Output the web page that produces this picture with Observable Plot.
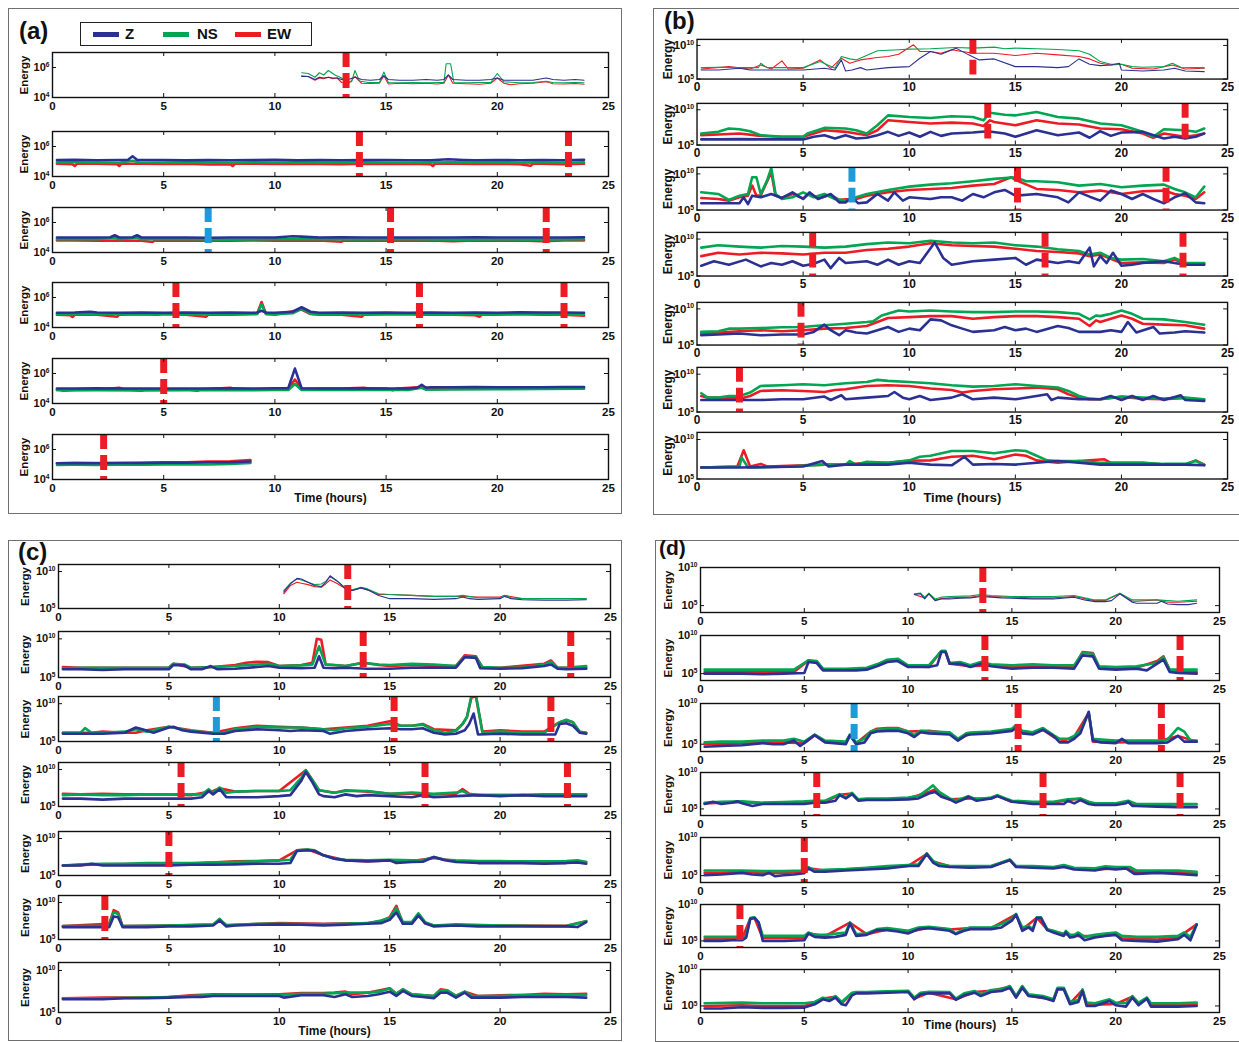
<!DOCTYPE html>
<html><head><meta charset="utf-8">
<script src="https://cdn.jsdelivr.net/npm/d3@7"></script>
<script src="https://cdn.jsdelivr.net/npm/@observablehq/plot@0.6"></script>
<style>
body{margin:0;background:#fff;}
#root{position:relative;width:1239px;height:1042px;overflow:hidden;font-family:"Liberation Sans",Arial,sans-serif;background:#fff;}
.panel{position:absolute;border:1.5px solid #707070;box-sizing:border-box;}
.plab{position:absolute;font-weight:bold;font-size:23px;line-height:1;color:#111;}
.sub{position:absolute;}
.legend{position:absolute;left:80px;top:22px;width:232px;height:24px;border:1.3px solid #222;box-sizing:border-box;background:#fff;}
.legend .sw{position:absolute;top:9px;width:26px;height:5px;}
.legend .lt{position:absolute;top:3px;font-weight:bold;font-size:15px;line-height:1;color:#111;}
</style></head><body><div id="root"></div>
<script>
// ---------------- DATA: [hour, log10(Energy)] ----------------
// Panel (a)
const a1_Z = [[11.2,5.4],[11.5,5.4],[11.8,5.2],[12.0,5.35],[12.2,5.3],[12.4,5.35],[12.6,5.3],[12.8,5.3],[13.0,5.2],[13.3,5.2],[13.6,5.35],[13.9,5.2],[14.3,5.15],[14.7,5.2],[14.9,5.45],[15.1,5.2],[15.6,5.15],[16.2,5.15],[16.8,5.2],[17.3,5.15],[17.6,5.2],[17.8,5.5],[18.0,5.2],[18.6,5.15],[19.2,5.15],[19.7,5.2],[20.0,5.3],[20.3,5.15],[21.0,5.15],[21.6,5.15],[22.2,5.3],[22.5,5.2],[23.0,5.15],[23.5,5.2],[23.9,5.15]];
const a1_NS = [[11.2,5.65],[11.5,5.6],[11.8,5.35],[12.0,5.65],[12.2,5.5],[12.4,5.8],[12.7,5.5],[13.0,5.3],[13.2,5.05],[13.45,5.05],[13.6,5.8],[13.8,5.1],[14.2,5.0],[14.7,5.0],[14.9,5.7],[15.1,5.0],[15.6,4.98],[16.2,5.0],[16.8,4.98],[17.4,5.0],[17.6,5.0],[17.7,6.25],[17.9,6.25],[18.05,5.0],[18.6,4.98],[19.2,5.0],[19.7,5.0],[20.0,5.6],[20.3,5.05],[21.0,4.98],[21.6,5.0],[22.2,5.08],[22.5,5.0],[23.0,4.98],[23.5,5.0],[23.9,4.98]];
const a1_EW = [[11.2,5.45],[11.5,5.4],[11.8,5.15],[12.0,5.3],[12.2,5.25],[12.4,5.35],[12.6,5.25],[12.8,5.3],[13.0,5.0],[13.3,4.9],[13.6,5.4],[13.9,4.95],[14.3,4.93],[14.7,4.95],[14.9,5.45],[15.1,4.9],[15.6,4.95],[16.2,4.92],[16.8,4.95],[17.3,4.9],[17.6,4.95],[17.8,5.5],[18.0,4.95],[18.6,4.92],[19.2,4.88],[19.7,4.95],[20.0,5.3],[20.3,4.95],[20.6,4.85],[21.0,4.92],[21.6,4.95],[22.2,5.05],[22.5,4.92],[23.0,4.9],[23.5,4.93],[23.9,4.88]];
const a2_Z = [[0.2,5.1],[1,5.12],[2,5.08],[3,5.1],[3.4,5.12],[3.6,5.35],[3.8,5.12],[5,5.1],[6,5.08],[7,5.1],[8,5.08],[9,5.1],[10,5.12],[11,5.08],[12,5.1],[13,5.08],[14,5.1],[15,5.1],[16,5.08],[17,5.08],[17.8,5.15],[18.5,5.1],[19,5.08],[20,5.1],[21,5.08],[22,5.1],[23,5.08],[23.9,5.12]];
const a2_NS = [[0.2,4.95],[1,4.95],[2,4.93],[3,4.92],[3.6,5.05],[3.9,4.95],[5,4.93],[6,4.95],[7,4.93],[8,4.92],[9,4.95],[10,4.93],[11,4.95],[12,4.93],[13,4.93],[14,4.95],[15,4.93],[16,4.92],[17,4.93],[18,4.95],[19,4.93],[20,4.93],[21,4.92],[22,4.93],[23,4.92],[23.9,4.95]];
const a2_EW = [[0.2,4.85],[0.9,4.82],[1.0,4.7],[1.1,4.85],[2,4.85],[2.9,4.82],[3.0,4.7],[3.1,4.85],[4,4.85],[5,4.83],[6,4.85],[7,4.8],[8,4.82],[8.1,4.7],[8.2,4.85],[9,4.85],[10,4.83],[11,4.85],[12,4.83],[13,4.82],[14,4.85],[15,4.83],[16,4.85],[17,4.82],[17.1,4.7],[17.2,4.85],[18,4.85],[19,4.83],[20,4.85],[21,4.82],[21.5,4.72],[21.6,4.85],[22,4.85],[23,4.82],[23.9,4.85]];
const a3_Z = [[0.2,5.0],[1,5.0],[2,5.0],[2.6,5.02],[2.8,5.15],[3.0,5.0],[3.6,5.02],[3.8,5.15],[4.0,5.0],[5,5.0],[6,5.0],[7,4.98],[8,5.0],[9,5.0],[10,5.0],[10.8,5.08],[11.2,5.06],[12,5.0],[13,5.02],[14,5.0],[15,5.0],[16,5.0],[17,5.0],[18,5.0],[19,5.02],[20,5.0],[21,5.0],[22,5.0],[23,5.0],[23.9,5.02]];
const a3_NS = [[0.2,4.88],[2,4.88],[2.8,4.98],[3.0,4.88],[3.8,4.98],[4.0,4.88],[6,4.88],[8,4.86],[10,4.88],[12,4.88],[14,4.87],[16,4.88],[18,4.86],[20,4.87],[22,4.86],[23.9,4.88]];
const a3_EW = [[0.2,4.8],[1,4.8],[2,4.78],[3,4.8],[4,4.78],[4.5,4.7],[4.6,4.8],[6,4.78],[7,4.8],[8,4.78],[9,4.8],[10,4.78],[12,4.8],[13,4.72],[13.1,4.8],[15,4.78],[17,4.8],[18,4.75],[19,4.8],[20,4.78],[21,4.8],[22,4.75],[23,4.8],[23.9,4.8]];
const a4_Z = [[0.2,4.98],[1,5.0],[1.7,5.05],[2,5.0],[3,4.98],[4,5.0],[5,4.98],[6,5.0],[7,4.98],[8,5.0],[9,4.98],[9.2,5.0],[9.4,5.12],[9.6,5.0],[10,4.98],[10.8,5.05],[11.2,5.35],[11.6,5.05],[12,4.98],[13,5.0],[14,4.98],[15,5.0],[16,4.98],[17,5.0],[18,4.98],[19,5.0],[20,4.98],[21,5.02],[22,5.0],[23,5.0],[23.9,4.98]];
const a4_NS = [[0.2,4.88],[2,4.9],[4,4.88],[6,4.88],[8,4.88],[9.2,4.9],[9.4,5.55],[9.6,4.9],[10,4.88],[10.8,4.95],[11.2,5.25],[11.6,4.92],[12,4.88],[14,4.88],[16,4.88],[18,4.87],[20,4.88],[22,4.88],[23.9,4.86]];
const a4_EW = [[0.2,4.85],[0.8,4.82],[0.9,4.7],[1.0,4.85],[2,4.85],[2.9,4.72],[3.0,4.85],[4,4.88],[4.7,4.85],[5,4.9],[6,4.85],[6.9,4.72],[7,4.85],[8,4.85],[9.2,4.9],[9.4,5.7],[9.6,4.9],[10,4.85],[11.2,5.2],[11.6,4.9],[12,4.85],[13,4.85],[13.9,4.72],[14,4.85],[15,4.88],[16,4.9],[16.5,4.85],[18,4.85],[19,4.82],[19.2,4.72],[19.3,4.85],[20,4.85],[21,4.9],[22,4.85],[23,4.85],[23.9,4.78]];
const a5_Z = [[0.2,5.0],[1,5.0],[2,5.02],[3,5.0],[4,5.0],[5,5.0],[6,5.0],[7,5.0],[8,5.02],[9,5.0],[10,5.02],[10.6,5.02],[10.9,6.33],[11.2,5.02],[12,5.0],[13,5.0],[14,5.02],[15,5.0],[16,5.0],[16.4,5.05],[16.6,5.25],[16.8,5.05],[17,5.08],[18,5.08],[19,5.1],[20,5.08],[21,5.08],[22,5.08],[23,5.1],[23.9,5.1]];
const a5_NS = [[0.2,4.88],[2,4.88],[4,4.87],[6,4.88],[8,4.88],[10,4.9],[10.6,4.9],[10.9,5.3],[11.2,4.9],[12,4.9],[14,4.9],[16,4.9],[16.6,5.05],[16.8,4.92],[18,4.93],[20,4.95],[22,4.97],[23.9,4.98]];
const a5_EW = [[0.2,4.95],[0.5,4.85],[1,4.9],[2,4.92],[3,5.05],[3.2,4.95],[4,4.85],[4.2,4.95],[5,4.95],[6,4.95],[6.5,4.85],[6.7,4.95],[8,5.05],[8.2,4.95],[10,4.95],[10.6,4.95],[10.9,5.6],[11.2,4.98],[12,5.0],[13,5.0],[14,5.05],[14.2,5.0],[15,5.0],[15.3,4.88],[15.5,5.0],[16.6,5.1],[17,5.0],[18,5.0],[19,5.02],[20,5.05],[21,5.02],[22,5.05],[23,5.02],[23.9,5.05]];
const a6_Z = [[0.2,5.08],[1,5.1],[2,5.08],[3,5.1],[4,5.1],[5,5.12],[6,5.12],[7,5.15],[8,5.15],[8.9,5.2]];
const a6_NS = [[0.2,4.97],[1,4.98],[2,4.97],[3,4.98],[4,4.98],[5,5.0],[6,5.0],[7,5.0],[8,5.03],[8.9,5.1]];
const a6_EW = [[0.2,5.08],[1,5.1],[2,5.1],[3,5.1],[4,5.12],[5,5.15],[6,5.15],[7,5.2],[8,5.22],[8.9,5.3]];

// Panel (b)
const b1_Z = [[0.2,6.35],[1,6.35],[2,6.6],[2.5,6.35],[5,6.35],[6,6.6],[6.5,6.35],[6.8,7.85],[7.0,6.2],[7.3,6.35],[7.7,6.7],[8,6.35],[9,6.7],[10,6.85],[10.5,8.1],[11,9.1],[11.5,8.7],[12.2,9.6],[12.8,8.6],[13.3,7.85],[14,8.0],[15,6.85],[16,6.85],[17,6.7],[17.5,6.85],[18,8.0],[18.5,7.2],[19,7.0],[19.5,7.1],[19.9,7.35],[20,6.35],[21,6.2],[22,6.35],[22.5,6.6],[23,6.2],[23.9,6.1]];
const b1_NS = [[0.2,6.7],[1,6.75],[2,6.7],[2.9,6.7],[3.0,7.35],[3.3,6.7],[5,6.7],[5.8,7.6],[6.5,6.6],[6.8,8.35],[7.2,8.0],[7.5,7.85],[8.5,9.2],[9.5,9.35],[10,9.45],[11,9.5],[12.2,9.7],[13,9.6],[14,9.75],[14.5,9.5],[15,9.6],[16,9.5],[17,9.4],[18,9.2],[18.5,8.7],[19,7.6],[19.5,7.2],[20,7.2],[20.5,6.85],[21,6.75],[22,6.85],[22.4,7.35],[22.8,6.75],[23.9,6.7]];
const b1_EW = [[0.2,6.5],[1.5,6.85],[2.5,6.5],[3.0,7.1],[3.5,6.5],[4.0,7.7],[4.3,6.5],[5,6.6],[5.8,7.85],[6.3,6.6],[6.8,8.1],[7.2,7.35],[7.7,7.85],[8.5,8.2],[9,8.35],[9.5,8.7],[10.2,10.1],[10.5,9.1],[11,9.1],[11.5,8.85],[12,9.35],[12.5,9.1],[13,8.85],[14,8.85],[15,8.5],[16,8.85],[17,8.6],[18,8.35],[18.5,8.0],[19,7.35],[19.5,7.1],[20,7.2],[20.5,6.6],[21.5,6.5],[22.4,7.1],[23,6.5],[23.9,6.6]];
const b2_Z = [[0.2,5.8],[1,5.8],[2,5.84],[3,5.8],[4,5.8],[5,5.8],[5.5,6.17],[6,6.4],[6.5,5.93],[7,6.4],[7.5,5.93],[8,6.03],[8.5,6.4],[9,6.87],[9.5,6.3],[10,6.78],[10.5,6.17],[11,6.87],[11.5,6.3],[12,6.64],[13,6.78],[13.7,6.96],[14.5,6.64],[15,6.17],[16,7.1],[17,6.4],[18,6.78],[18.5,6.03],[19,6.96],[19.5,6.3],[20,6.78],[21,6.87],[22,5.93],[22.5,6.17],[23,5.93],[23.5,6.17],[23.9,6.64]];
const b2_NS = [[0.2,6.64],[1,6.87],[1.5,7.34],[2,7.24],[2.5,6.96],[3,6.4],[4,6.17],[5,6.17],[5.2,6.64],[6,7.43],[7,7.34],[7.5,7.1],[8,6.64],[8.5,7.8],[9,9.2],[10,8.97],[11,8.83],[12,9.07],[13,8.97],[13.5,8.5],[13.8,9.58],[14.5,9.3],[15,9.2],[16,9.67],[17,8.97],[18,8.74],[19,8.04],[20,7.8],[21,6.87],[21.5,6.17],[22,7.24],[23,7.1],[23.5,6.87],[23.9,7.34]];
const b2_EW = [[0.2,6.4],[1,6.5],[2,6.64],[3,6.3],[4,6.17],[5,6.17],[6,7.1],[7,6.87],[8,6.4],[8.5,7.1],[9,8.5],[10,8.27],[11,8.04],[12,8.18],[13,8.04],[13.5,7.7],[13.8,8.5],[14,8.27],[15,7.8],[16,8.5],[17,8.04],[18,7.9],[19,7.34],[20,7.24],[21,6.64],[21.5,6.03],[22,6.64],[23,6.17],[23.5,6.4],[23.9,6.64]];
const b3_Z = [[0.2,5.93],[1,5.93],[2,5.93],[2.2,6.76],[2.4,5.83],[2.6,6.99],[3.0,6.76],[3.5,7.22],[4,6.67],[4.5,7.45],[5,6.53],[5.3,7.45],[5.7,6.53],[6.3,7.22],[6.7,6.06],[7.0,6.06],[7.3,6.76],[7.6,5.93],[8,6.06],[8.5,7.22],[9,6.3],[9.3,7.45],[9.7,6.3],[10,6.76],[11,6.53],[11.5,6.76],[12,6.76],[12.5,6.3],[13,7.22],[13.5,6.76],[14,7.45],[14.5,7.78],[15,6.99],[16,7.22],[17,6.76],[17.5,6.06],[18,7.45],[18.5,6.85],[19,6.3],[19.5,7.69],[20,7.22],[20.5,6.53],[21,7.22],[21.5,6.53],[22,5.93],[22.5,6.76],[23,7.31],[23.5,6.06],[23.9,5.93]];
const b3_NS = [[0.2,7.45],[1,7.22],[1.5,6.39],[2,6.99],[2.4,7.22],[2.6,9.54],[2.8,9.54],[3.0,7.22],[3.3,9.07],[3.5,10.83],[3.7,7.22],[4,6.53],[4.5,6.76],[5,7.45],[5.5,6.76],[6,7.22],[6.5,6.53],[7,6.3],[7.5,6.76],[8,7.22],[9,7.78],[10,8.24],[11,8.52],[12,8.7],[13,8.98],[14,9.31],[15,9.54],[15.5,8.98],[16,8.98],[17,8.84],[18,8.38],[19,8.61],[20,8.15],[21,8.38],[22,8.52],[22.5,7.92],[23,7.45],[23.5,6.76],[23.9,8.24]];
const b3_EW = [[0.2,6.67],[1,6.53],[1.5,6.3],[2,6.76],[2.4,6.99],[2.6,8.38],[2.8,6.99],[3.0,6.99],[3.5,10.23],[3.7,6.99],[4,6.67],[4.5,7.22],[5,6.6],[5.3,7.3],[5.7,6.6],[6.3,7.1],[6.7,6.4],[7.0,6.5],[7.5,6.53],[8,6.99],[9,7.45],[10,7.78],[11,7.92],[12,8.06],[13,8.38],[14,8.61],[14.8,9.54],[15,9.17],[16,7.92],[17,7.78],[18,7.45],[19,7.69],[20,7.22],[21,7.59],[22,7.69],[22.5,7.22],[23,6.99],[23.5,6.53],[23.9,7.45]];
const b4_Z = [[0.2,6.39],[0.8,6.99],[1.5,6.53],[2.3,7.22],[3,6.3],[3.5,6.76],[4,6.53],[4.5,6.99],[5,6.39],[5.5,6.67],[6,7.22],[6.3,6.06],[6.7,7.45],[7,6.76],[8,6.99],[8.5,6.53],[9,7.22],[9.5,6.53],[10,6.99],[10.5,6.76],[11.2,9.54],[11.6,7.45],[12,6.53],[12.5,6.76],[13,6.99],[14,7.22],[15,7.45],[15.5,6.53],[16,7.22],[17,6.76],[17.5,6.99],[18,6.76],[18.5,8.84],[18.7,6.3],[19,7.69],[19.3,6.76],[19.6,8.15],[20,6.39],[20.5,6.53],[21,6.76],[22,6.99],[22.5,6.76],[23,6.53],[23.9,6.53]];
const b4_NS = [[0.2,8.84],[1,9.17],[2,8.98],[3,8.84],[4,9.07],[5,8.98],[6,8.84],[7,8.98],[8,9.31],[9,9.54],[10,9.44],[11,9.77],[12,9.54],[13,9.44],[14,9.54],[15,9.17],[16,8.98],[17,8.61],[18,8.38],[18.5,7.92],[19,8.15],[19.5,7.45],[20,7.22],[21,7.31],[22,6.99],[22.5,7.45],[23,6.76],[23.9,6.76]];
const b4_EW = [[0.2,7.69],[1,8.15],[2,7.92],[3,8.15],[4,8.06],[5,7.92],[6,8.15],[7,8.15],[8,8.52],[9,8.7],[10,8.98],[11,9.44],[12,9.17],[13,9.07],[14,8.98],[15,8.7],[16,8.38],[17,8.24],[18,8.06],[18.5,7.69],[19,7.92],[20,6.76],[21,6.85],[22,6.76],[22.5,7.22],[23,6.67],[23.9,6.67]];
const b5_Z = [[0.2,6.36],[1,6.45],[2,6.59],[3,6.36],[4,6.45],[5,6.45],[5.5,6.82],[6,7.82],[6.3,7.05],[6.7,6.36],[7,7.05],[7.5,6.73],[8,6.59],[8.5,7.05],[9,7.5],[9.5,6.82],[10,7.27],[10.5,7.05],[11,8.55],[11.5,8.41],[12,7.73],[12.5,7.27],[13,6.82],[14,7.05],[14.5,7.5],[15,7.05],[15.5,7.27],[16,6.82],[17,7.64],[17.5,7.36],[18,6.82],[19,6.82],[19.5,7.05],[20,6.82],[20.3,8.18],[20.7,6.73],[21.5,7.5],[21.8,6.59],[22.5,6.73],[23,6.91],[23.9,6.73]];
const b5_NS = [[0.2,6.82],[1,6.91],[1.5,7.27],[2,7.27],[3,7.36],[4,7.45],[5,7.5],[5.5,7.64],[6,7.73],[7,7.95],[8,8.18],[8.3,8.27],[8.7,9.09],[9.5,9.77],[10,9.64],[11,9.77],[12,9.64],[13,9.55],[14,9.55],[15,9.64],[16,9.64],[17,9.55],[18,9.32],[18.5,8.55],[18.8,9.09],[19,9.0],[19.5,9.32],[20,9.77],[20.5,9.32],[21,8.64],[22,8.55],[23,8.18],[23.9,7.82]];
const b5_EW = [[0.2,6.59],[1,6.73],[2,6.91],[3,7.05],[4,6.91],[5,7.05],[6,7.27],[7,7.36],[8,7.64],[8.5,8.18],[9,8.73],[10,8.86],[11,9.0],[12,9.0],[13,8.64],[14,8.86],[15,9.0],[16,9.0],[17,8.86],[18,8.64],[18.5,7.64],[18.8,8.41],[19,8.18],[19.5,8.64],[20,9.09],[20.5,8.64],[21,7.95],[22,7.82],[23,7.73],[23.9,7.27]];
const b6_Z = [[0.2,6.59],[1,6.59],[2,6.59],[3,6.59],[4,6.68],[5,6.68],[6,7.04],[6.3,6.59],[6.8,7.21],[7,6.68],[8,6.9],[9,7.12],[9.3,7.65],[9.7,6.9],[10,6.68],[10.5,7.12],[11,6.59],[12,6.9],[12.5,7.35],[13,6.68],[14,6.9],[15,6.68],[16,7.12],[16.5,7.35],[16.7,6.59],[17,6.9],[18,6.68],[19,6.68],[19.5,7.12],[20,6.59],[20.5,7.12],[21,6.59],[21.5,7.12],[22,6.59],[22.8,7.21],[23,6.59],[23.9,6.46]];
const b6_NS = [[0.2,7.48],[0.5,6.9],[1,6.9],[1.5,7.12],[2,7.12],[2.5,7.57],[3,8.45],[4,8.54],[5,8.67],[6,8.54],[7,8.81],[8,8.98],[8.5,9.25],[9,9.12],[10,8.98],[11,8.81],[12,8.54],[13,8.36],[14,8.45],[15,8.67],[16,8.45],[17,8.23],[17.5,7.79],[18,7.12],[18.5,6.77],[19,6.68],[20,7.04],[21,6.9],[22,6.77],[23,6.9],[23.9,6.68]];
const b6_EW = [[0.2,7.12],[0.5,6.9],[1,6.9],[2,6.77],[2.5,7.12],[3,7.79],[4,7.88],[5,7.79],[6,7.65],[6.5,7.92],[7,8.01],[8,8.45],[9,8.54],[10,8.45],[11,8.1],[12,7.92],[12.5,7.57],[13,7.79],[14,8.01],[15,8.1],[16,8.23],[17,8.01],[17.5,7.35],[18,6.9],[18.5,6.68],[19,6.68],[20,7.0],[21,6.75],[22,6.68],[23,6.85],[23.9,6.6]];
const b7_Z = [[0.2,6.45],[2,6.45],[5,6.59],[5.9,7.27],[6.2,6.59],[7,6.82],[8,6.82],[9,6.82],[10,7.05],[11,6.82],[12,6.73],[12.6,7.82],[13,6.82],[14,6.91],[15,6.82],[16,7.05],[17,7.27],[18,7.05],[19,6.82],[20,6.82],[22,6.82],[23,6.82],[23.9,6.73]];
const b7_NS = [[0.2,6.45],[2,6.59],[2.1,7.73],[2.4,6.45],[4,6.55],[6,6.82],[7,6.82],[7.2,7.27],[7.5,6.8],[8,7.18],[9,7.05],[10,7.36],[10.5,7.82],[11,7.95],[12,8.55],[13,8.55],[14,8.27],[15,8.64],[15.5,8.55],[16,7.95],[16.5,7.36],[17,7.27],[18,7.27],[19,7.05],[20,7.05],[21,7.05],[22,6.91],[23,6.91],[23.5,7.27],[23.9,6.82]];
const b7_EW = [[0.2,6.45],[1.9,6.59],[2.2,8.64],[2.5,6.59],[3,6.91],[3.3,6.59],[6,6.82],[7,6.82],[8,7.05],[9,7.05],[10,7.3],[11,7.36],[12,7.82],[13,7.95],[13.5,7.73],[14,7.5],[15,8.09],[15.5,7.95],[16,7.36],[16.5,7.18],[17,7.05],[18,7.27],[19.2,7.5],[19.5,7.05],[20,7.05],[21,7.05],[22,6.82],[23,6.82],[23.5,7.36],[23.9,6.82]];

// Panel (c)
const c1_Z = [[10.2,7.21],[10.5,8.32],[10.8,9.07],[11.0,8.98],[11.3,8.54],[11.6,8.1],[11.9,7.96],[12.1,8.54],[12.3,9.42],[12.6,8.76],[13.0,7.65],[13.3,7.43],[13.7,7.79],[14.0,7.52],[14.5,6.77],[15,6.33],[16,6.33],[17,6.24],[18,6.33],[18.3,6.55],[18.6,6.33],[19,6.24],[20,6.33],[20.2,6.64],[20.5,6.33],[21,6.19],[22,6.11],[23,6.11],[23.9,6.19]];
const c1_NS = [[10.2,7.43],[10.5,8.41],[10.8,8.98],[11.0,8.85],[11.3,8.54],[11.6,8.23],[11.9,8.32],[12.1,8.67],[12.3,9.29],[12.6,8.76],[13.0,7.79],[13.3,7.52],[13.7,7.88],[14,7.65],[14.5,6.99],[15,6.9],[16,6.77],[17,6.64],[18,6.64],[18.3,6.77],[19,6.46],[20,6.46],[20.2,6.77],[20.5,6.46],[21,6.33],[22,6.33],[23,6.33],[23.9,6.33]];
const c1_EW = [[10.2,6.99],[10.5,8.1],[10.8,8.54],[11.0,8.41],[11.3,8.23],[11.6,7.96],[11.9,7.88],[12.1,8.32],[12.3,8.85],[12.6,8.41],[13.0,7.65],[13.3,7.43],[13.7,7.79],[14.0,7.52],[14.5,6.9],[15,6.9],[16,6.77],[17,6.64],[18,6.64],[19,6.55],[20,6.55],[20.2,6.77],[21,6.33],[22,6.33],[23,6.33],[23.9,6.33]];
const c2_Z = [[0.2,6.06],[1,6.06],[2,5.97],[3,6.06],[4,6.06],[5,6.06],[5.2,6.61],[5.7,6.57],[6,6.06],[6.5,6.06],[6.9,6.48],[7.2,6.06],[8,6.14],[9,6.36],[9.5,6.48],[10,6.27],[11,6.19],[11.6,6.27],[11.8,7.75],[12.0,6.27],[12.5,6.19],[13,6.27],[14,6.14],[15,6.14],[16,6.27],[17,6.27],[18,6.27],[18.4,7.63],[18.9,7.54],[19.1,6.19],[20,6.14],[21,6.19],[22,6.48],[22.3,6.69],[22.6,6.14],[23,6.06],[23.9,6.14]];
const c2_NS = [[0.2,6.19],[1,6.27],[2,6.27],[3,6.27],[4,6.27],[5,6.27],[5.2,6.78],[5.7,6.69],[6,6.27],[7,6.36],[8,6.48],[9,6.69],[9.5,6.78],[10,6.48],[11,6.57],[11.5,6.69],[11.8,9.03],[12.1,6.69],[12.5,6.61],[13,6.48],[13.8,6.91],[14.5,6.69],[15,6.61],[16,6.78],[17,6.69],[18,6.48],[18.4,7.75],[18.9,7.63],[19.2,6.36],[20,6.27],[21,6.27],[22,6.69],[22.3,7.03],[22.6,6.27],[23,6.27],[23.9,6.48]];
const c2_EW = [[0.2,6.36],[1,6.27],[2,6.27],[3,6.27],[4,6.27],[5,6.27],[5.2,6.78],[6,6.27],[7,6.36],[8,6.61],[8.5,6.91],[9,7.03],[9.5,6.99],[10,6.48],[11,6.61],[11.5,6.91],[11.7,10.0],[11.9,9.87],[12.1,6.69],[13,6.48],[13.8,6.91],[14.5,6.61],[15,6.48],[16,6.61],[17,6.48],[18,6.48],[18.4,7.88],[18.9,7.75],[19.2,6.27],[20,6.27],[22,6.78],[22.3,7.2],[22.6,6.27],[23.9,6.27]];
const c3_Z = [[0.2,6.02],[1,6.02],[2,6.02],[3,6.16],[3.5,6.85],[3.8,6.62],[4.3,6.16],[5,6.85],[5.2,6.94],[5.6,6.48],[6,6.3],[7,6.02],[7.5,6.02],[8,6.39],[9,6.62],[10,6.48],[10.5,6.39],[11,6.48],[12,6.39],[12.3,6.02],[13,6.39],[14,6.62],[15,6.76],[15.5,6.62],[16,6.62],[16.5,6.76],[17,6.16],[17.5,5.93],[18,6.02],[18.4,6.48],[18.6,7.31],[18.8,8.7],[19.0,5.93],[20,6.02],[21,5.93],[22,5.93],[22.5,5.93],[22.7,7.31],[23.0,7.41],[23.3,7.08],[23.6,6.16],[23.9,6.02]];
const c3_NS = [[0.2,6.16],[1,6.16],[1.2,6.76],[1.5,6.16],[2,6.16],[3,6.3],[3.5,6.62],[4,6.3],[5,6.94],[6,6.39],[7,6.16],[7.5,6.16],[8,6.62],[9,6.94],[10,6.85],[11,6.85],[12,6.62],[12.5,6.48],[13,6.76],[14,6.94],[15,7.31],[15.5,7.08],[16,7.08],[16.5,7.22],[17,6.48],[17.5,6.16],[18,6.39],[18.3,7.31],[18.5,8.24],[18.7,11.1],[18.9,11.25],[19.2,6.16],[20,6.3],[21,6.16],[22,6.16],[22.7,7.55],[23.0,7.87],[23.3,7.55],[23.6,6.3],[23.9,6.16]];
const c3_EW = [[0.2,6.16],[1,6.16],[1.5,6.16],[2,6.3],[3,6.16],[3.5,6.16],[4,6.48],[5,6.94],[6,6.48],[7,6.16],[8,6.76],[9,7.08],[10,6.94],[11,6.85],[12,6.62],[13,6.85],[14,7.08],[15,7.69],[15.5,7.08],[16,7.08],[16.5,7.31],[17,6.62],[18,6.48],[18.3,7.31],[18.5,8.24],[18.7,10.79],[18.9,11.0],[19.2,6.3],[20,6.48],[21,6.3],[22,6.3],[22.7,7.55],[23.0,7.78],[23.3,7.55],[23.6,6.3],[23.9,6.16]];
const c4_Z = [[0.2,6.07],[1,6.07],[2,5.93],[3,6.07],[4,6.07],[5,6.07],[6,6.07],[6.5,6.26],[6.8,7.1],[7.0,6.64],[7.3,7.34],[7.6,6.26],[8,6.26],[9,6.26],[10,6.4],[10.5,6.54],[11.0,8.5],[11.2,9.67],[11.5,8.27],[11.8,6.64],[12,6.4],[12.5,6.26],[13,6.64],[13.5,6.4],[14,6.54],[15,6.4],[16,6.26],[16.5,6.54],[17,6.26],[18,6.4],[19,6.54],[20,6.4],[21,6.54],[22,6.4],[23,6.4],[23.9,6.4]];
const c4_NS = [[0.2,6.54],[1,6.64],[2,6.54],[3,6.54],[4,6.64],[5,6.64],[6,6.64],[6.5,6.64],[6.8,7.34],[7.0,6.87],[7.3,7.57],[7.6,6.87],[8,7.01],[9,7.1],[10,7.1],[10.5,7.2],[11.0,8.88],[11.2,9.91],[11.5,8.6],[11.8,7.2],[12.5,6.87],[13,7.1],[14,7.1],[15,6.73],[16,6.87],[17,6.73],[18,6.87],[18.3,7.1],[18.6,6.64],[19,6.54],[20,6.54],[21,6.54],[22,6.64],[23,6.64],[23.9,6.64]];
const c4_EW = [[0.2,6.73],[1,6.64],[2,6.73],[3,6.64],[4,6.64],[5,6.64],[6,6.54],[7,7.1],[7.3,7.48],[8,7.01],[9,7.1],[10,7.1],[11.2,9.91],[11.8,7.2],[12.5,6.87],[13,7.2],[14,7.01],[15,6.73],[16,6.73],[17,6.64],[18,6.73],[18.3,7.34],[18.6,6.73],[19,6.54],[20,6.54],[23.9,6.54]];
const c5_Z = [[0.2,6.36],[1,6.36],[1.5,6.59],[2,6.36],[3,6.36],[4,6.36],[5,6.36],[6,6.45],[7,6.45],[8,6.5],[9,6.59],[10,6.59],[10.5,6.68],[10.8,8.32],[11.3,8.41],[11.6,8.32],[12,7.73],[12.5,7.27],[13,7.05],[14,6.91],[15,7.05],[15.3,6.68],[16,6.82],[16.5,6.86],[17,7.5],[17.5,7.05],[18,6.82],[19,6.68],[20,6.68],[21,6.68],[22,6.59],[23,6.68],[23.5,6.77],[23.9,6.59]];
const c5_NS = [[0.2,6.36],[1,6.5],[2,6.59],[3,6.59],[4,6.68],[5,6.68],[6,6.68],[7,6.77],[8,6.82],[9,6.91],[10,7.05],[10.5,7.14],[10.8,8.41],[11.3,8.5],[11.6,8.41],[12,7.73],[12.5,7.27],[13,7.14],[14,7.05],[15,7.14],[16,7.05],[16.5,7.05],[17,7.5],[17.5,7.14],[18,7.05],[19,6.95],[20,6.95],[21,6.91],[22,6.91],[23,6.95],[23.5,7.05],[23.9,6.82]];
const c5_EW = [[0.2,6.36],[2,6.5],[4,6.59],[6,6.59],[8,6.91],[9,6.95],[10,7.05],[10.8,8.41],[11.3,8.5],[12,7.73],[13,7.05],[14,6.95],[15,7.05],[16,6.95],[17,7.36],[18,6.95],[20,6.91],[22,6.82],[23.9,6.82]];
const c6_Z = [[0.2,6.68],[1,6.68],[2,6.68],[2.3,6.68],[2.5,8.1],[2.7,8.01],[2.9,6.68],[4,6.68],[5,6.77],[6,6.77],[7,6.9],[7.3,7.57],[7.6,6.77],[8,6.9],[9,6.99],[10,7.04],[11,6.99],[12,6.9],[13,6.99],[14,7.12],[14.6,7.21],[15.0,7.65],[15.3,8.67],[15.6,7.12],[16.0,7.12],[16.3,8.23],[16.6,7.21],[17,6.77],[18,6.9],[19,6.77],[20,6.77],[21,6.77],[22,6.77],[23,6.77],[23.5,6.68],[23.9,7.35]];
const c6_NS = [[0.2,6.81],[2,6.81],[2.3,7.12],[2.5,8.67],[2.7,8.45],[2.9,6.81],[5,6.9],[7,7.04],[7.3,7.79],[7.6,6.9],[9,7.12],[10,7.12],[12,7.04],[14,7.21],[14.6,7.57],[15.0,7.92],[15.3,9.25],[15.6,7.35],[16.0,7.35],[16.3,8.54],[16.6,7.35],[17,6.9],[18,7.04],[20,6.9],[22,6.81],[23,6.81],[23.9,7.48]];
const c6_EW = [[0.2,6.81],[2.3,7.12],[2.5,8.98],[2.7,8.67],[2.9,6.81],[5,6.9],[7,6.99],[7.3,7.65],[7.6,6.95],[10,7.21],[12,7.12],[14,7.21],[14.6,7.48],[15.0,8.01],[15.3,9.56],[15.6,7.12],[16.0,7.2],[16.3,8.45],[16.6,7.21],[17,6.9],[20,6.9],[23,6.85],[23.9,7.48]];
const c7_Z = [[0.2,6.57],[2,6.57],[3,6.69],[4,6.69],[5,6.77],[6,6.85],[6.5,6.85],[7,6.97],[8,6.97],[9,6.97],[10,6.97],[10.2,6.77],[11,7.05],[12,7.05],[12.5,6.85],[13,7.17],[13.3,6.85],[14,6.97],[14.5,7.17],[15,7.48],[15.3,6.97],[15.6,7.56],[16,6.97],[16.5,6.85],[17,6.69],[17.3,7.36],[17.6,7.36],[18,6.77],[18.4,7.36],[18.7,6.77],[19,6.77],[20,6.77],[21,6.85],[22,6.85],[23,6.85],[23.9,6.77]];
const c7_NS = [[0.2,6.69],[2,6.69],[4,6.77],[5,6.85],[6,6.97],[7,7.09],[8,7.17],[9,7.17],[10,7.09],[11,7.24],[12,7.24],[13,7.36],[14,7.36],[14.5,7.48],[15,7.87],[15.3,7.24],[15.6,7.76],[16,7.17],[17,6.97],[17.3,7.64],[17.6,7.64],[18,6.97],[18.4,7.48],[18.7,6.97],[19,6.97],[20,6.97],[21,7.09],[22,7.05],[23,7.09],[23.9,7.09]];
const c7_EW = [[0.2,6.69],[2,6.77],[4,6.77],[5,6.85],[6,7.05],[7,7.17],[8,7.17],[9,7.17],[10,7.17],[11,7.32],[12,7.32],[12.5,7.36],[13,7.48],[13.3,7.17],[14,7.36],[15,7.87],[15.3,7.24],[15.6,7.76],[16,7.17],[17,6.97],[17.3,7.76],[17.6,7.64],[18,6.97],[18.4,7.48],[19,6.97],[20,7.05],[21,7.09],[22,7.24],[23,7.17],[23.9,7.24]];

// Panel (d)
const d1_Z = [[10.3,6.46],[10.6,6.55],[10.8,5.88],[11.0,6.55],[11.3,5.66],[11.6,5.88],[12,5.88],[12.5,5.97],[13,6.02],[13.5,6.19],[14,6.11],[14.5,6.02],[15,5.97],[16,5.88],[17,5.88],[18,6.11],[18.5,5.75],[19,5.53],[19.5,5.53],[19.8,5.66],[20.2,6.55],[20.8,5.44],[21,5.31],[22,5.31],[22.2,5.58],[22.5,5.22],[23,5.13],[23.5,5.13],[23.9,5.31]];
const d1_NS = [[10.3,6.55],[10.6,6.64],[10.8,6.11],[11.0,6.64],[11.3,5.88],[11.6,6.11],[12,6.19],[13,6.28],[13.5,6.46],[14,6.33],[15,6.19],[16,6.19],[17,6.19],[18,6.33],[18.5,6.02],[19,5.75],[19.5,5.75],[20.2,6.64],[20.8,5.75],[21,5.75],[22,5.75],[22.5,5.66],[23,5.58],[23.9,5.75]];
const d1_EW = [[10.3,6.46],[10.8,6.02],[11.0,6.55],[11.3,5.75],[11.6,5.93],[12,6.02],[13,6.11],[13.5,6.33],[14,6.19],[15,6.11],[16,6.02],[17,6.02],[18,6.19],[19,5.66],[19.5,5.66],[20.2,6.55],[20.8,5.58],[21,5.58],[22,5.75],[22.5,5.44],[23,5.44],[23.9,5.58]];
const d2_Z = [[0.2,5.0],[1,5.0],[2,5.0],[3,4.91],[4,5.0],[5,5.09],[5.2,6.52],[5.6,6.39],[5.9,5.43],[7,5.43],[7.5,5.43],[8,5.52],[8.5,5.96],[9,6.52],[9.5,6.65],[10,5.87],[11,5.87],[11.4,6.09],[11.6,7.83],[11.8,7.83],[12,6.3],[12.5,6.3],[13,5.87],[13.5,6.3],[14,5.96],[15,5.65],[16,5.78],[17,5.78],[18,5.65],[18.4,7.39],[18.9,7.26],[19.2,5.65],[20,5.52],[21,5.65],[21.5,5.43],[22,6.3],[22.3,6.83],[22.6,5.22],[23,5.09],[23.9,5.0]];
const d2_NS = [[0.2,5.52],[1,5.52],[2,5.52],[3,5.52],[4.5,5.52],[5.2,6.74],[5.6,6.65],[5.9,5.65],[7,5.65],[8,5.78],[8.5,6.22],[9,6.83],[9.5,6.96],[10,6.09],[11,6.09],[11.6,7.96],[11.8,7.96],[12,6.39],[12.5,6.52],[13,6.09],[13.5,6.52],[14,6.22],[15,6.09],[16,6.22],[17,6.09],[18,6.09],[18.4,7.7],[18.9,7.61],[19.2,5.96],[20,5.87],[21,5.96],[22,6.39],[22.3,7.17],[22.6,5.52],[23,5.52],[23.9,5.52]];
const d2_EW = [[0.2,5.22],[1,5.22],[2,5.22],[3,5.22],[4.5,5.22],[5.2,6.74],[5.6,6.52],[5.9,5.52],[7,5.52],[8,5.65],[9,6.74],[9.5,6.83],[10,5.96],[11,5.87],[11.6,7.96],[11.8,7.96],[12,6.3],[13,5.96],[14,6.09],[15,5.87],[16,5.87],[17,5.87],[18,5.87],[18.4,7.83],[18.9,7.7],[19.2,5.78],[20,5.65],[21,5.78],[22,6.65],[22.3,7.26],[22.6,5.43],[23,5.3],[23.9,5.22]];
const d3_Z = [[0.2,4.69],[1,4.78],[2,4.87],[3,5.13],[3.5,5.0],[4,5.0],[4.5,5.44],[4.8,4.78],[5.5,6.11],[6,5.22],[7,5.0],[7.2,6.11],[7.5,5.0],[7.9,5.22],[8.2,6.33],[8.5,6.55],[9,6.64],[9.5,6.64],[10,6.33],[10.3,5.88],[10.6,6.46],[11,6.33],[12,6.19],[12.4,5.44],[12.8,6.11],[13,6.19],[14,6.33],[15,6.64],[15.2,6.99],[15.5,6.33],[16,6.19],[16.5,6.77],[17,6.02],[17.3,5.22],[17.7,5.22],[18,5.66],[18.3,6.33],[18.7,8.98],[18.9,5.44],[19.3,5.22],[20,5.13],[20.3,5.66],[20.6,5.13],[21,5.13],[21.5,5.13],[22,5.13],[22.5,5.22],[23,6.02],[23.3,5.31],[23.9,5.31]];
const d3_NS = [[0.2,5.22],[1,5.31],[2,5.31],[3,5.44],[4,5.44],[4.5,5.66],[5,5.31],[5.5,6.19],[6,5.44],[7,5.31],[7.2,6.19],[7.5,5.22],[7.9,5.66],[8.2,6.55],[8.5,6.77],[9,6.9],[9.5,6.9],[10,6.55],[10.3,6.11],[10.6,6.64],[11,6.55],[12,6.46],[12.4,5.66],[12.8,6.33],[13,6.42],[14,6.55],[15,6.9],[15.2,7.35],[15.5,6.64],[16,6.46],[16.5,6.99],[17,6.11],[17.3,5.66],[17.7,5.66],[18,6.02],[18.3,6.64],[18.7,8.85],[18.9,5.66],[19.3,5.58],[20,5.44],[21,5.44],[22,5.44],[22.5,5.58],[23.0,6.99],[23.3,6.55],[23.6,5.44],[23.9,5.44]];
const d3_EW = [[0.2,5.0],[1,5.0],[2,5.13],[3,5.31],[4,5.22],[5,5.13],[5.5,6.11],[6,5.3],[7,5.1],[7.2,6.11],[7.5,5.1],[8.2,6.55],[8.5,6.9],[9,6.99],[9.5,6.99],[10,6.55],[11,6.64],[12,6.33],[12.4,5.58],[13,6.33],[14,6.46],[15,6.77],[15.2,7.21],[15.5,6.55],[16,6.33],[16.5,6.77],[17,5.88],[17.5,5.44],[18,5.88],[18.7,8.85],[18.9,5.31],[20,5.22],[22,5.31],[23.0,6.02],[23.9,5.31]];
const d4_Z = [[0.2,5.68],[0.6,5.99],[1,5.68],[1.5,5.86],[1.8,6.04],[2,5.77],[2.5,5.41],[3,5.68],[4,5.68],[5,5.68],[5.5,5.86],[6,5.86],[6.5,6.13],[6.7,6.89],[7.0,6.44],[7.3,7.03],[7.6,6.13],[8,6.22],[9,6.22],[10,6.31],[10.5,6.44],[11.0,7.12],[11.3,7.34],[11.6,6.67],[12,6.31],[12.3,5.86],[12.6,6.22],[12.9,6.67],[13.3,6.13],[14,6.44],[14.3,6.76],[14.7,6.31],[15,5.99],[15.5,5.86],[16,5.68],[17,5.68],[17.5,5.68],[17.7,6.13],[18,5.77],[18.3,6.22],[18.7,5.68],[19,5.54],[20,5.54],[20.5,5.77],[20.6,5.99],[20.8,5.41],[21,5.41],[22,5.32],[23,5.23],[23.9,5.23]];
const d4_NS = [[0.2,5.86],[1,5.99],[2,6.04],[3,5.86],[4,5.95],[5,6.04],[5.5,6.13],[6,6.13],[6.7,7.03],[7.0,6.58],[7.3,7.21],[7.6,6.31],[8,6.44],[9,6.44],[10,6.58],[10.5,6.76],[11.0,7.79],[11.2,8.24],[11.5,7.34],[12,6.44],[12.3,6.13],[12.6,6.44],[12.9,6.76],[13.3,6.31],[14,6.58],[14.3,6.89],[14.7,6.44],[15,6.13],[16,5.99],[17,5.99],[17.7,6.31],[18.3,6.44],[18.7,5.99],[19,5.77],[20,5.77],[20.6,6.13],[21,5.68],[22,5.68],[23,5.68],[23.9,5.68]];
const d4_EW = [[0.2,5.77],[1,5.86],[2,5.95],[3,5.77],[5,5.86],[6,5.99],[6.7,6.94],[7.3,7.12],[7.6,6.22],[10,6.44],[11.0,7.34],[11.3,7.66],[11.6,6.89],[12,6.31],[13,6.44],[14,6.44],[14.3,6.8],[15,5.99],[16,5.86],[17,5.86],[17.7,6.22],[18.3,6.4],[18.7,5.86],[19,5.68],[20,5.68],[20.6,5.99],[21,5.5],[22,5.41],[23,5.32],[23.9,5.32]];
const d5_Z = [[0.2,5.05],[1,5.14],[2,5.36],[2.5,5.14],[3,5.05],[3.3,5.36],[3.6,4.91],[4,5.05],[4.5,5.14],[5,5.32],[5.2,5.95],[5.5,5.5],[6,5.5],[7,5.68],[8,5.81],[9,5.95],[10,6.26],[10.5,6.26],[10.9,7.84],[11.2,6.71],[11.5,6.26],[12,6.13],[13,6.04],[14,6.13],[14.9,7.03],[15.2,6.13],[16,6.04],[17,5.95],[17.5,6.13],[18,5.81],[19,5.68],[19.5,5.95],[20,5.81],[20.5,5.95],[20.9,5.23],[21,5.23],[22,5.36],[23,5.23],[23.9,5.05]];
const d5_NS = [[0.2,5.68],[1,5.68],[2,5.68],[3,5.59],[4,5.59],[5,5.68],[5.2,6.13],[5.5,5.68],[6,5.77],[7,5.86],[8,6.04],[9,6.26],[10,6.4],[10.5,6.49],[10.9,7.93],[11.2,6.94],[11.5,6.49],[12,6.26],[13,6.26],[14,6.26],[14.9,7.12],[15.2,6.26],[16,6.26],[17,6.13],[17.5,6.4],[18,6.04],[19,5.95],[19.5,6.22],[20,6.13],[20.7,6.13],[20.9,5.81],[21,5.68],[22,5.68],[23,5.68],[23.9,5.5]];
const d5_EW = [[0.2,5.36],[1,5.36],[2,5.5],[3,5.32],[4,5.36],[5,5.5],[5.2,5.95],[6,5.68],[8,5.95],[9,6.13],[10,6.26],[10.9,7.84],[11.2,6.85],[12,6.22],[13,6.13],[14,6.22],[14.9,7.03],[15.2,6.22],[16,6.13],[17,6.04],[17.5,6.31],[18,5.95],[19,5.81],[20,5.95],[20.7,6.04],[20.9,5.5],[22,5.5],[23,5.5],[23.9,5.23]];
const d6_Z = [[0.2,5.0],[1,5.0],[1.5,5.09],[2.0,5.09],[2.2,5.46],[2.4,8.0],[2.6,8.15],[2.8,7.55],[3.0,5.0],[4,5.0],[5,5.09],[5.2,6.02],[5.5,5.56],[6,5.46],[6.5,5.56],[7,5.83],[7.2,7.41],[7.5,5.69],[8,5.83],[8.5,6.48],[9,6.48],[9.5,6.3],[10,6.02],[10.5,6.62],[11,6.76],[12,6.39],[12.3,5.93],[12.7,6.39],[13,6.62],[14,6.62],[14.5,6.85],[15.0,7.78],[15.2,8.61],[15.5,6.39],[15.8,6.85],[16,6.39],[16.2,8.15],[16.4,8.15],[16.7,6.48],[17,6.16],[17.5,5.69],[17.6,6.16],[17.8,5.46],[18,5.56],[18.2,5.83],[18.5,5.09],[19,5.46],[19.5,5.69],[20,5.83],[20.3,5.09],[21,5.0],[22,4.91],[23,5.23],[23.3,5.83],[23.6,5.09],[23.9,7.22]];
const d6_NS = [[0.2,5.56],[1,5.56],[2.0,5.56],[2.2,5.69],[2.4,8.15],[2.6,8.24],[2.8,7.55],[3.0,5.69],[4,5.69],[5,5.69],[5.2,6.16],[5.5,5.83],[6,5.83],[7,6.16],[7.2,7.55],[7.5,5.93],[8,6.02],[8.5,6.62],[9,6.76],[10,6.39],[10.5,6.85],[11,6.94],[12,6.62],[12.3,6.02],[12.7,6.62],[13,6.85],[14,6.85],[14.5,7.31],[15.0,8.01],[15.2,8.7],[15.5,6.85],[15.8,7.08],[16,6.62],[16.2,8.24],[16.4,8.24],[16.7,6.62],[17,6.39],[17.5,5.93],[17.6,6.39],[17.8,5.83],[18,5.83],[18.2,6.16],[18.5,5.56],[19,5.83],[19.5,6.02],[20,6.16],[20.3,5.69],[21,5.56],[22,5.56],[23,5.69],[23.3,6.16],[23.6,5.56],[23.9,7.31]];
const d6_EW = [[0.2,5.23],[2.0,5.28],[2.4,8.1],[2.6,8.19],[3.0,5.37],[5,5.37],[5.2,6.06],[6,5.65],[7.2,7.5],[8,5.93],[9,6.57],[10,6.2],[11,6.85],[12,6.57],[13,6.76],[14,6.76],[15.2,8.65],[15.5,6.57],[16.2,8.19],[16.7,6.57],[17,6.3],[18,5.69],[19,5.65],[20,6.02],[20.3,5.37],[21,5.28],[22,5.19],[23,5.46],[23.9,7.27]];
const d7_Z = [[0.2,4.64],[1,4.64],[2,4.82],[3,4.73],[4,4.73],[5,4.77],[5.5,5.23],[5.9,5.91],[6.2,5.68],[6.5,6.14],[6.8,5.23],[7.0,5.09],[7.3,6.45],[7.5,6.73],[8,6.73],[9,6.82],[10,6.91],[10.3,5.91],[10.6,6.59],[11,6.73],[12,6.73],[12.3,5.82],[12.7,6.45],[13.2,6.82],[13.5,6.36],[14,6.91],[14.5,7.05],[14.9,7.5],[15.2,6.14],[15.5,7.5],[15.8,6.36],[16.5,6.14],[17,5.68],[17.2,7.27],[17.5,7.27],[17.8,5.23],[18.2,5.55],[18.4,7.05],[18.6,5.0],[19,5.0],[19.7,5.68],[20,5.09],[20.5,4.91],[20.8,6.14],[21.1,5.09],[21.5,6.0],[21.7,4.91],[22,4.91],[23,4.91],[23.9,5.0]];
const d7_NS = [[0.2,5.36],[2,5.45],[3,5.36],[4,5.36],[5,5.36],[5.5,5.55],[5.9,6.14],[6.2,5.91],[6.5,6.36],[6.8,5.55],[7.3,6.82],[7.5,6.91],[8,6.91],[9,7.0],[10,7.09],[10.3,6.14],[10.6,6.82],[11,6.95],[12,6.91],[12.3,6.0],[12.7,6.73],[13.2,7.05],[13.5,6.59],[14,7.18],[14.5,7.27],[14.9,7.73],[15.2,6.36],[15.5,7.73],[15.8,6.59],[16.5,6.36],[17,5.91],[17.2,7.5],[17.5,7.5],[17.8,5.55],[18.2,5.82],[18.4,7.27],[18.6,5.45],[19,5.36],[19.7,5.91],[20,5.45],[20.5,5.36],[20.8,6.36],[21.1,5.45],[21.5,6.14],[21.7,5.36],[22,5.36],[23,5.36],[23.9,5.45]];
const d7_EW = [[0.2,5.0],[2,5.09],[3,5.0],[5,5.0],[5.5,5.36],[5.9,6.0],[6.5,6.27],[6.8,5.36],[7.3,6.73],[7.5,6.82],[9,6.91],[10,7.0],[10.3,6.0],[11,6.82],[12.3,5.91],[13.2,6.91],[14,7.09],[14.9,7.64],[15.2,6.27],[15.5,7.64],[15.8,6.45],[17,5.82],[17.2,7.36],[17.5,7.36],[17.8,5.36],[18.4,7.18],[18.6,5.18],[19,5.18],[20,5.27],[20.8,6.27],[21.1,5.27],[21.5,6.09],[21.7,5.09],[23,5.09],[23.9,5.18]];

// Event markers (hours), per subplot
const A_RED = [[13.2],[13.8,23.2],[15.2,22.2],[5.55,16.5,23.0],[5.0],[2.3]];
const A_BLUE = [[],[],[7.0],[],[],[]];
const B_RED = [[13.0],[13.7,23.0],[15.1,22.1],[5.45,16.4,22.9],[4.9],[2.0],[]];
const B_BLUE = [[],[],[7.3],[],[],[],[]];
const C_RED = [[13.1],[13.8,23.2],[15.2,22.3],[5.55,16.6,23.05],[5.0],[2.1],[]];
const C_BLUE = [[],[],[7.15],[],[],[],[]];
const D_RED = [[13.6],[13.7,23.1],[15.3,22.2],[5.6,16.5,23.1],[5.0],[1.9],[]];
const D_BLUE = [[],[],[7.4],[],[],[],[]];

const X_TICKS = [0,5,10,15,20,25];

// ---------------- STYLE / LAYOUT ----------------
const COL = {Z:"#2b3192", NS:"#00a651", EW:"#ed1c24"};
const RED_MARK = "#ed1c24", BLUE_MARK = "#1f9ad8";
const FONT = '"Liberation Sans", Arial, sans-serif';

const PANELS = [
  {x0:52, x1:608, tops:[52,131,207,282,358,434], bottoms:[97,176,252,327,403,479], ylog:[4,7], yt:[4,6],
   series:[[a1_Z,a1_NS,a1_EW],[a2_Z,a2_NS,a2_EW],[a3_Z,a3_NS,a3_EW],[a4_Z,a4_NS,a4_EW],[a5_Z,a5_NS,a5_EW],[a6_Z,a6_NS,a6_EW]],
   red:A_RED, blue:A_BLUE, fs:11.5, energyDx:28, timeDy:22, timeFs:12},
  {x0:697, x1:1232, tops:[39,103,167,232,302,367,432], bottoms:[79,145,210,276,345,412,479], ylog:[5,10.9], yt:[5,10],
   series:[[b1_Z,b1_NS,b1_EW],[b2_Z,b2_NS,b2_EW],[b3_Z,b3_NS,b3_EW],[b4_Z,b4_NS,b4_EW],[b5_Z,b5_NS,b5_EW],[b6_Z,b6_NS,b6_EW],[b7_Z,b7_NS,b7_EW]],
   red:B_RED, blue:B_BLUE, fs:12, energyDx:29, timeDy:23, timeFs:13},
  {x0:58, x1:610, tops:[564,631,696,762,831,895,962], bottoms:[608,677,741,806,875,939,1012], ylog:[5,10.95], yt:[5,10],
   series:[[c1_Z,c1_NS,c1_EW],[c2_Z,c2_NS,c2_EW],[c3_Z,c3_NS,c3_EW],[c4_Z,c4_NS,c4_EW],[c5_Z,c5_NS,c5_EW],[c6_Z,c6_NS,c6_EW],[c7_Z,c7_NS,c7_EW]],
   red:C_RED, blue:C_BLUE, fs:11.5, energyDx:33, timeDy:22, timeFs:12},
  {x0:700, x1:1219, tops:[567,635,703,772,837,904,969], bottoms:[612,680,751,815,882,947,1012], ylog:[4.1,10], yt:[5,10],
   series:[[d1_Z,d1_NS,d1_EW],[d2_Z,d2_NS,d2_EW],[d3_Z,d3_NS,d3_EW],[d4_Z,d4_NS,d4_EW],[d5_Z,d5_NS,d5_EW],[d6_Z,d6_NS,d6_EW],[d7_Z,d7_NS,d7_EW]],
   red:D_RED, blue:D_BLUE, fs:11.5, energyDx:32, timeDy:16, timeFs:12}
];

const root = document.getElementById("root");
function addDiv(cls, css, html){ const d=document.createElement("div"); d.className=cls; Object.assign(d.style, css); if(html!=null) d.innerHTML=html; root.appendChild(d); return d; }

// panel borders
addDiv("panel", {left:"8px", top:"8px", width:"614px", height:"506px"});
addDiv("panel", {left:"653px", top:"8px", width:"600px", height:"507px"});
addDiv("panel", {left:"8px", top:"540px", width:"614px", height:"501px"});
addDiv("panel", {left:"655px", top:"540px", width:"600px", height:"502px"});

const toRows = pairs => pairs.map(([t, v]) => ({t, E: Math.pow(10, v)}));

function subplot(P, i){
  const W = P.x1 - P.x0, top = P.tops[i], H = P.bottoms[i] - top;
  const mL = 60, mR = 12, mT = 12, mB = 36;
  const thin = i === 0;
  const sw = thin ? 1.1 : 2.6;
  const [zS, nsS, ewS] = P.series[i];
  const last = i === P.tops.length - 1;
  const yTickVals = P.yt.map(e => Math.pow(10, e));
  const marks = [
    Plot.line(toRows(ewS), {x:"t", y:"E", stroke:COL.EW, strokeWidth:sw, clip:true}),
    Plot.line(toRows(nsS), {x:"t", y:"E", stroke:COL.NS, strokeWidth:sw, clip:true}),
    Plot.line(toRows(zS), {x:"t", y:"E", stroke:COL.Z, strokeWidth:sw, clip:true}),
    Plot.ruleX(P.blue[i], {x:d=>d, stroke:BLUE_MARK, strokeWidth:7, strokeDasharray:"15,6"}),
    Plot.ruleX(P.red[i], {x:d=>d, stroke:RED_MARK, strokeWidth:7, strokeDasharray:"15,6"}),
    Plot.frame({stroke:"#111", strokeWidth:1.4}),
    Plot.tickX(X_TICKS.slice(1,-1), {x:d=>d, stroke:"#111", strokeWidth:1, insetTop:H-4}),
    Plot.tickX(X_TICKS.slice(1,-1), {x:d=>d, stroke:"#111", strokeWidth:1, insetBottom:H-4}),
    Plot.tickY(yTickVals, {y:d=>d, stroke:"#111", strokeWidth:1, insetRight:W-4}),
    Plot.tickY(yTickVals, {y:d=>d, stroke:"#111", strokeWidth:1, insetLeft:W-4}),
    Plot.axisX(X_TICKS, {tickSize:0, tickPadding:4, label:null, fontWeight:"bold", fontSize:P.fs, fontFamily:FONT, tickFormat:d=>String(d)}),
    Plot.axisY(yTickVals, {tickSize:0, tickPadding:3, label:null, fontWeight:"bold", fontSize:P.fs-0.5, fontFamily:FONT,
      tickFormat:d=>"10^"+Math.round(Math.log10(d))}),
    Plot.text(["Energy"], {text:d=>d, frameAnchor:"left", rotate:-90, dx:-P.energyDx, textAnchor:"middle", lineAnchor:"middle",
      fontWeight:"bold", fontSize:P.fs, fontFamily:FONT, fill:"#111"})
  ];
  if (last) marks.push(Plot.text(["Time (hours)"], {text:d=>d, frameAnchor:"bottom", dy:P.timeDy, textAnchor:"middle", fontWeight:"bold", fontSize:P.timeFs, fontFamily:FONT, fill:"#111"}));
  const svg = Plot.plot({
    width: W + mL + mR, height: H + mT + mB,
    marginLeft:mL, marginRight:mR, marginTop:mT, marginBottom:mB,
    x:{domain:[0,25]},
    y:{type:"log", domain:[Math.pow(10,P.ylog[0]), Math.pow(10,P.ylog[1])]},
    style:{background:"transparent", overflow:"visible", color:"#111", fontFamily:FONT},
    marks
  });
  // superscript exponents on y tick labels
  d3.select(svg).selectAll('g[aria-label="y-axis tick label"] text').each(function(){
    const s = this.textContent; if (s.indexOf("^") < 0) return;
    const [b, e] = s.split("^");
    const t = d3.select(this); t.text(null);
    t.append("tspan").text(b);
    t.append("tspan").attr("dy","-0.6em").attr("font-size","0.6em").text(e);
  });
  const wrap = addDiv("sub", {left:(P.x0 - mL)+"px", top:(top - mT)+"px"});
  wrap.appendChild(svg);
}

PANELS.forEach(P => P.tops.forEach((_, i) => subplot(P, i)));

// panel letters
addDiv("plab", {left:"19px", top:"19px", fontSize:"24px"}, "(a)");
addDiv("plab", {left:"664px", top:"9px", fontSize:"24px"}, "(b)");
addDiv("plab", {left:"18px", top:"540px", fontSize:"24px"}, "(c)");
addDiv("plab", {left:"659px", top:"537px", fontSize:"21px"}, "(d)");

// legend for panel (a)
const lg = addDiv("legend", {});
[["Z",12,44],["NS",82,116],["EW",154,186]].forEach(([k, sx, tx]) => {
  const sw = document.createElement("div"); sw.className="sw"; sw.style.left=sx+"px"; sw.style.background=COL[k]; lg.appendChild(sw);
  const tt = document.createElement("div"); tt.className="lt"; tt.style.left=tx+"px"; tt.textContent=k; lg.appendChild(tt);
});
</script></body></html>
